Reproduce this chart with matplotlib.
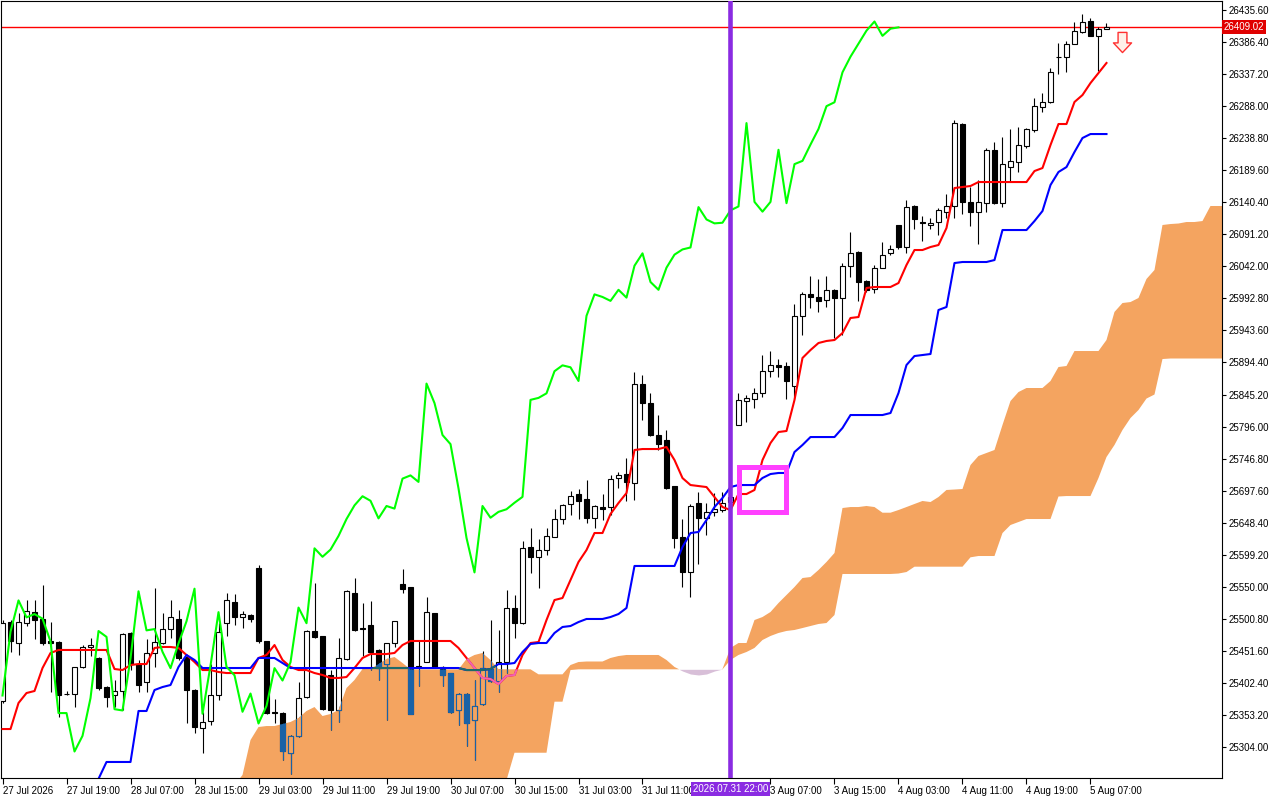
import numpy as np
import matplotlib
matplotlib.use("Agg")
import matplotlib.pyplot as plt
from matplotlib.path import Path
from matplotlib.patches import Rectangle
from matplotlib.transforms import blended_transform_factory

# H1 candles, bar 0 = 27 Jul 2026
opens = [25374, 25496, 25463, 25495, 25511, 25501, 25467, 25465, 25386, 25386,
         25427, 25457, 25441, 25396, 25383, 25390, 25479, 25431, 25403, 25448,
         25463, 25485, 25501, 25442, 25392, 25333, 25344, 25383, 25494, 25527,
         25503, 25507, 25579, 25466, 25357, 25356, 25295, 25321, 25380, 25482,
         25474, 25414, 25361, 25439, 25541, 25486, 25491, 25453, 25431, 25464,
         25554, 25549, 25426, 25435, 25509, 25427, 25417, 25360, 25386, 25345,
         25370, 25423, 25406, 25434, 25517, 25494, 25611, 25596, 25607, 25627,
         25654, 25677, 25693, 25684, 25655, 25672, 25672, 25717, 25723, 25709,
         25861, 25832, 25783, 25775, 25704, 25626, 25572, 25678, 25656, 25665,
         25668, 25680, 25799, 25836, 25839, 25847, 25882, 25890, 25889, 25859,
         25966, 25999, 25995, 25991, 26006, 25994, 26043, 26064, 26020, 26008,
         26040, 26062, 26105, 26071, 26135, 26110, 26106, 26110, 26126, 26134,
         26261, 26141, 26126, 26140, 26221, 26139, 26194, 26203, 26227, 26252,
         26286, 26294, 26364, 26364, 26384, 26402, 26419, 26396, 26407]
highs = [25499, 25499, 25509, 25530, 25530, 25553, 25496, 25466, 25390, 25427,
         25461, 25472, 25442, 25397, 25407, 25479, 25480, 25437, 25470, 25548,
         25509, 25530, 25514, 25443, 25393, 25358, 25432, 25494, 25540, 25539,
         25512, 25508, 25583, 25467, 25377, 25357, 25322, 25404, 25483, 25555,
         25475, 25422, 25471, 25545, 25563, 25525, 25528, 25454, 25464, 25498,
         25578, 25550, 25466, 25535, 25510, 25428, 25418, 25387, 25387, 25407,
         25451, 25499, 25484, 25545, 25537, 25620, 25640, 25623, 25640, 25670,
         25677, 25697, 25700, 25714, 25675, 25693, 25722, 25726, 25747, 25880,
         25875, 25847, 25814, 25791, 25705, 25654, 25677, 25696, 25678, 25694,
         25696, 25695, 25847, 25844, 25855, 25906, 25912, 25899, 25895, 25984,
         26002, 26027, 26023, 26027, 26007, 26047, 26094, 26066, 26021, 26044,
         26080, 26075, 26106, 26144, 26136, 26119, 26117, 26132, 26153, 26267,
         26262, 26164, 26175, 26223, 26233, 26240, 26253, 26256, 26255, 26300,
         26308, 26346, 26385, 26388, 26417, 26429, 26423, 26410, 26416]
lows = [25371, 25450, 25445, 25489, 25470, 25460, 25389, 25350, 25383, 25366,
        25425, 25443, 25391, 25366, 25366, 25361, 25422, 25389, 25389, 25427,
        25462, 25471, 25437, 25341, 25326, 25295, 25338, 25376, 25474, 25491,
        25486, 25496, 25463, 25354, 25340, 25284, 25263, 25320, 25379, 25472,
        25360, 25330, 25343, 25438, 25482, 25443, 25422, 25407, 25345, 25458,
        25540, 25354, 25398, 25434, 25426, 25398, 25356, 25337, 25306, 25284,
        25369, 25404, 25388, 25417, 25471, 25493, 25571, 25548, 25598, 25626,
        25647, 25660, 25654, 25648, 25640, 25652, 25660, 25702, 25681, 25683,
        25806, 25782, 25760, 25700, 25609, 25550, 25534, 25585, 25629, 25659,
        25665, 25672, 25798, 25803, 25824, 25841, 25872, 25872, 25839, 25838,
        25937, 25978, 25972, 25980, 25932, 25937, 26025, 25989, 26003, 26001,
        26039, 26060, 26069, 26062, 26100, 26081, 26099, 26090, 26116, 26116,
        26123, 26104, 26076, 26126, 26138, 26133, 26172, 26187, 26223, 26249,
        26279, 26293, 26338, 26341, 26383, 26400, 26396, 26342, 26407]
closes = [25494, 25466, 25496, 25513, 25499, 25463, 25463, 25384, 25386, 25427,
          25457, 25460, 25395, 25381, 25390, 25478, 25431, 25399, 25448, 25465,
          25485, 25503, 25441, 25392, 25334, 25342, 25383, 25481, 25529, 25503,
          25508, 25501, 25466, 25356, 25356, 25297, 25321, 25379, 25482, 25473,
          25362, 25360, 25440, 25543, 25483, 25485, 25450, 25425, 25463, 25497,
          25547, 25355, 25429, 25511, 25427, 25414, 25358, 25386, 25340, 25367,
          25425, 25406, 25434, 25518, 25494, 25609, 25596, 25607, 25628, 25654,
          25675, 25689, 25682, 25655, 25674, 25670, 25716, 25721, 25711, 25862,
          25832, 25783, 25769, 25701, 25625, 25572, 25674, 25656, 25665, 25669,
          25679, 25688, 25837, 25840, 25847, 25881, 25890, 25887, 25866, 25966,
          25999, 25995, 25989, 26006, 25994, 26043, 26062, 26018, 26006, 26040,
          26060, 26068, 26071, 26133, 26114, 26108, 26109, 26128, 26134, 26262,
          26141, 26126, 26141, 26221, 26139, 26199, 26204, 26229, 26253, 26288,
          26294, 26340, 26364, 26384, 26404, 26418, 26396, 26407, 26409.02]

tenkan = [25331.5, 25331.5, 25371.5, 25386.8, 25389.9, 25425.2, 25448.3,
          25452.9, 25452.9, 25452.9, 25452.9, 25452.9, 25452.9, 25452.9,
          25423.7, 25422.1, 25429.8, 25431.3, 25431.3, 25456.0, 25457.5, 25457.5,
          25456.0, 25445.2, 25434.4, 25422.1, 25422.1, 25419.1,
          25417.5, 25417.5, 25417.5, 25417.5,
          25440.6, 25445.2, 25460.5, 25437.5, 25426.8, 25422.1, 25422.1, 25417.5,
          25414.5, 25409.9, 25409.9, 25411.4, 25425.2, 25440.6,
          25446.7, 25446.7, 25446.7, 25448.3, 25460.5,
          25466.7, 25466.7, 25466.7, 25466.7, 25466.7, 25466.7,
          25456.0, 25440.6, 25425.2, 25409.9, 25408.3, 25400.6, 25412.9, 25414.5,
          25445.2, 25463.6, 25465.1, 25498.9, 25529.6, 25532.7, 25560.4, 25588.0,
          25606.4, 25632.5, 25632.5, 25661.7, 25678.6, 25693.9, 25760.0,
          25761.5, 25761.5, 25761.5,
          25764.6, 25744.6, 25716.9, 25706.2, 25704.7, 25703.1, 25687.8, 25672.4,
          25667.8, 25692.4, 25692.4, 25698.6, 25744.6, 25770.7, 25787.6, 25789.2,
          25836.8, 25901.3, 25913.5, 25924.3, 25927.4, 25928.9, 25939.6, 25962.7,
          25964.2, 26008.8, 26010.3, 26010.3, 26010.3,
          26016.4, 26044.1, 26067.1, 26067.1, 26071.7, 26074.8, 26100.9, 26162.3,
          26163.9, 26165.4,
          26171.5, 26171.5, 26171.5, 26171.5, 26171.5, 26171.5, 26171.5,
          26188.4, 26193.0, 26228.3, 26260.6, 26260.6, 26294.4, 26305.1, 26323.5,
          26338.9, 26354.3]
kijun = [np.nan] * 12 + [
         25255.0, 25280.9, 25280.9, 25280.9, 25280.9, 25359.2, 25359.2,
         25391.4, 25396.0, 25399.1, 25426.8, 25445.2, 25437.5,
         25425.2, 25425.2, 25425.2, 25425.2, 25425.2, 25425.2, 25425.2,
         25440.6, 25440.6, 25440.6, 25432.9,
         25425.2, 25425.2, 25425.2, 25425.2, 25425.2, 25425.2, 25425.2, 25425.2,
         25425.2, 25425.2, 25425.2, 25425.2, 25425.2, 25425.2, 25425.2, 25425.2,
         25425.2, 25425.2, 25425.2, 25425.2, 25425.2, 25425.2,
         25422.1, 25422.1, 25422.1, 25423.7, 25431.3, 25431.3, 25432.9, 25449.8,
         25462.1, 25463.6, 25463.6, 25479.0, 25488.2, 25489.7, 25495.8,
         25500.5, 25500.5, 25500.5, 25503.5, 25508.1, 25517.4,
         25581.9, 25581.9, 25581.9, 25581.9, 25581.9, 25581.9,
         25611.0, 25632.5, 25634.1, 25652.5, 25672.4, 25686.3, 25703.1,
         25706.2, 25706.2, 25706.2, 25717.0, 25723.1, 25724.7, 25724.7,
         25756.9, 25767.7, 25779.9, 25779.9, 25779.9, 25779.9, 25793.8,
         25813.7, 25813.7, 25813.7, 25813.7, 25813.7, 25816.8,
         25847.5, 25890.5, 25904.3, 25905.9, 25907.4, 25975.0, 25979.6, 26047.1,
         26048.7, 26048.7, 26048.7, 26048.7, 26051.7,
         26097.8, 26097.8, 26097.8, 26097.8, 26111.6, 26127.0, 26166.9, 26186.9,
         26194.5, 26217.6, 26239.1, 26245.2, 26245.2, 26245.2]

# Senkou spans as drawn (already shifted forward), first value at bar 29
cloud_start = 29
span_a = [25245.0, 25261.0, 25314.6, 25334.6, 25336.1, 25336.1, 25339.2, 25342.3,
          25348.5, 25359.2, 25365.3, 25351.5, 25354.6, 25360.7, 25394.5, 25406.8,
          25423.7, 25423.5, 25431.3, 25439.0, 25442.1, 25432.9,
          25423.0, 25423.0, 25423.0, 25423.0, 25423.0, 25423.0, 25423.0,
          25439.0, 25445.2, 25448.3, 25437.5, 25423.5,
          25423.2, 25423.2, 25423.2, 25423.2, 25415.5, 25415.5, 25415.5, 25415.5,
          25429.8, 25434.4, 25435.2, 25435.2, 25435.2, 25440.6, 25443.6,
          25445.2, 25445.2, 25445.2, 25445.2, 25445.2, 25437.5, 25426.8,
          25420.6, 25416.0, 25414.5, 25416.0, 25420.6, 25423.7,
          25456.0, 25463.6, 25463.6, 25498.9, 25503.5, 25511.2, 25525.0, 25537.3,
          25549.6, 25563.4, 25564.9, 25575.7, 25588.0, 25601.8, 25670.9, 25672.4,
          25672.4, 25674.0, 25672.4, 25663.7, 25663.7, 25667.8, 25672.4, 25677.1,
          25681.7, 25680.1, 25687.8, 25698.6, 25699.3, 25700.1, 25736.9, 25750.8,
          25755.4, 25760.0, 25798.4, 25835.2, 25849.0, 25855.2, 25855.2, 25855.2,
          25865.9, 25887.4, 25889.0, 25912.0, 25912.0, 25912.0, 25912.0, 25928.9,
          25972.0, 25985.7, 25987.2, 25993.4, 26022.6, 26036.4, 26105.5, 26107.0,
          26107.8, 26110.1, 26110.1, 26111.6, 26134.7, 26134.7, 26134.7]
span_b = [25230.0] * 34 + [
          25253.0, 25295.1, 25295.1, 25295.1, 25295.1, 25295.1, 25373.5, 25373.5,
          25422.1] + [25423.2] * 19 + [
          25437.5, 25445.2, 25449.8, 25456.0, 25468.2, 25474.4, 25479.0, 25482.1,
          25483.6, 25486.6, 25489.7, 25492.8, 25494.3, 25506.6,
          25569.6, 25569.6, 25569.6, 25569.6, 25569.6, 25569.6, 25569.6,
          25570.3, 25572.6,
          25580.8, 25580.8, 25580.8, 25580.8, 25580.8, 25580.8, 25580.8,
          25595.2, 25597.2, 25597.2, 25597.2, 25632.5, 25644.8, 25649.4,
          25654.0, 25654.0, 25654.0, 25654.0, 25688.6,
          25689.3, 25689.3, 25689.3, 25689.3, 25717.0, 25749.2, 25767.7, 25790.7,
          25809.1, 25821.4, 25839.0, 25845.2, 25899.7,
          25900.5, 25900.5, 25900.5, 25900.5, 25900.5, 25900.5, 25900.5, 25900.5]

tick_bars = [0, 8, 16, 24, 32, 40, 48, 56, 64, 72, 80, 96, 104, 112, 120, 128, 136]
tick_labels = ["27 Jul 2026", "27 Jul 19:00", "28 Jul 07:00", "28 Jul 15:00",
               "29 Jul 03:00", "29 Jul 11:00", "29 Jul 19:00", "30 Jul 07:00",
               "30 Jul 15:00", "31 Jul 03:00", "31 Jul 11:00", "3 Aug 07:00",
               "3 Aug 15:00", "4 Aug 03:00", "4 Aug 11:00", "4 Aug 19:00",
               "5 Aug 07:00"]

last_price = 26409.02
vline_bar = 91
vline_label = "2026.07.31 22:00"
box_bars = (92.1, 97.9)
box_prices = (25665.5, 25734.6)
arrow_bar = 139.9
arrow_price = 26386.5
shift = 26

plt.rcParams['font.family'] = ['Liberation Sans', 'DejaVu Sans']

o = np.array(opens, float)
h = np.array(highs, float)
l = np.array(lows, float)
c = np.array(closes, float)
x = np.arange(len(c))
up = c >= o
bottoms = np.minimum(o, c)
heights = np.abs(c - o)

A = np.array(span_a)
B = np.array(span_b)
cx = np.arange(cloud_start, cloud_start + len(A))

fig = plt.figure(figsize=(12.8, 8), dpi=100)
ax = fig.add_axes([1 / 1280, 22 / 800, 1221 / 1280, 777 / 800])
ax.set_xlim(-0.19, 152.44)
ax.set_ylim(25256.3, 26449.5)

# kumo
ax.fill_between(cx, A, B, where=A >= B, interpolate=True, color='#F4A460', lw=0, zorder=1)
ax.fill_between(cx, A, B, where=A < B, interpolate=True, color='#D8BFD8', lw=0, zorder=1)
cloud_path = Path(np.column_stack([np.r_[cx, cx[::-1]], np.r_[A, B[::-1]]]), closed=True)

ax.axhline(last_price, color='#FF0000', lw=1.0, zorder=2)

# candles
ax.vlines(x, l, h, color='black', lw=0.8, zorder=3)
ax.bar(x, heights, bottom=bottoms, width=0.6,
       color=np.where(up, 'white', 'black'), edgecolor='black', lw=0.8, zorder=3.1)

# the part of candles inside the cloud shows up blue on the chart
inblue = '#1A62A6'
w2 = ax.vlines(x, l, h, color=inblue, lw=0.8, zorder=3.2)
w2.set_clip_path(cloud_path, ax.transData)
b2 = ax.bar(x, heights, bottom=bottoms, width=0.6,
            color=np.where(up, '#F4A460', inblue), edgecolor=inblue, lw=0.8, zorder=3.3)
for p in b2:
    p.set_clip_path(cloud_path, ax.transData)

# ichimoku lines
ax.plot(x, tenkan, color='red', lw=1.5, zorder=4)
ax.plot(x, kijun, color='blue', lw=1.5, zorder=4)
ax.plot(x[:len(c) - shift], c[shift:], color='#00FF00', lw=1.5, zorder=4)
t2, = ax.plot(x, tenkan, color='#F062B4', lw=1.5, zorder=4.1)
t2.set_clip_path(cloud_path, ax.transData)
k2, = ax.plot(x, kijun, color='#1E6A6A', lw=1.5, zorder=4.1)
k2.set_clip_path(cloud_path, ax.transData)

# objects
ax.axvline(vline_bar, color='#8A2BE2', lw=3.3, zorder=6)
ax.add_patch(Rectangle((box_bars[0], box_prices[0]), box_bars[1] - box_bars[0],
                       box_prices[1] - box_prices[0], fill=False,
                       edgecolor='#FF40FF', lw=3.6, zorder=6))
arrow = Path([(-0.22, 0.5), (0.22, 0.5), (0.22, -0.02), (0.45, -0.02), (0, -0.5),
              (-0.45, -0.02), (-0.22, -0.02), (-0.22, 0.5)],
             [Path.MOVETO] + [Path.LINETO] * 6 + [Path.CLOSEPOLY])
ax.plot([arrow_bar], [arrow_price], marker=arrow, markersize=14.5, ls='none',
        markerfacecolor='#FFF0E8', markeredgecolor='#FF3030', markeredgewidth=1.0, zorder=6)

# axes
for s in ax.spines.values():
    s.set_color('black')
    s.set_linewidth(0.8)
price_ticks = 25304.0 + 49.2 * np.arange(24)
ax.yaxis.tick_right()
ax.set_yticks(price_ticks)
ax.set_yticklabels(['%.2f' % v for v in price_ticks])
ax.tick_params(axis='y', direction='out', length=3, width=0.8, pad=2, labelsize=7)
ax.set_xticks(tick_bars)
ax.set_xticklabels(tick_labels, ha='left')
ax.tick_params(axis='x', direction='out', length=4, width=0.8, pad=2, labelsize=7)

tr_x = blended_transform_factory(ax.transData, ax.transAxes)
ax.text(vline_bar, -0.0142, vline_label, transform=tr_x, ha='center', va='center',
        color='white', fontsize=7, clip_on=False, zorder=10,
        bbox=dict(boxstyle='square,pad=0.2', fc='#8A2BE2', ec='none'))
tr_y = blended_transform_factory(ax.transAxes, ax.transData)
ax.text(1.0015, last_price, '%.2f' % last_price, transform=tr_y, ha='left', va='center',
        color='white', fontsize=7, clip_on=False, zorder=10,
        bbox=dict(boxstyle='square,pad=0.2', fc='#E00000', ec='none'))

fig.savefig('out.png', dpi=100, facecolor='white')
